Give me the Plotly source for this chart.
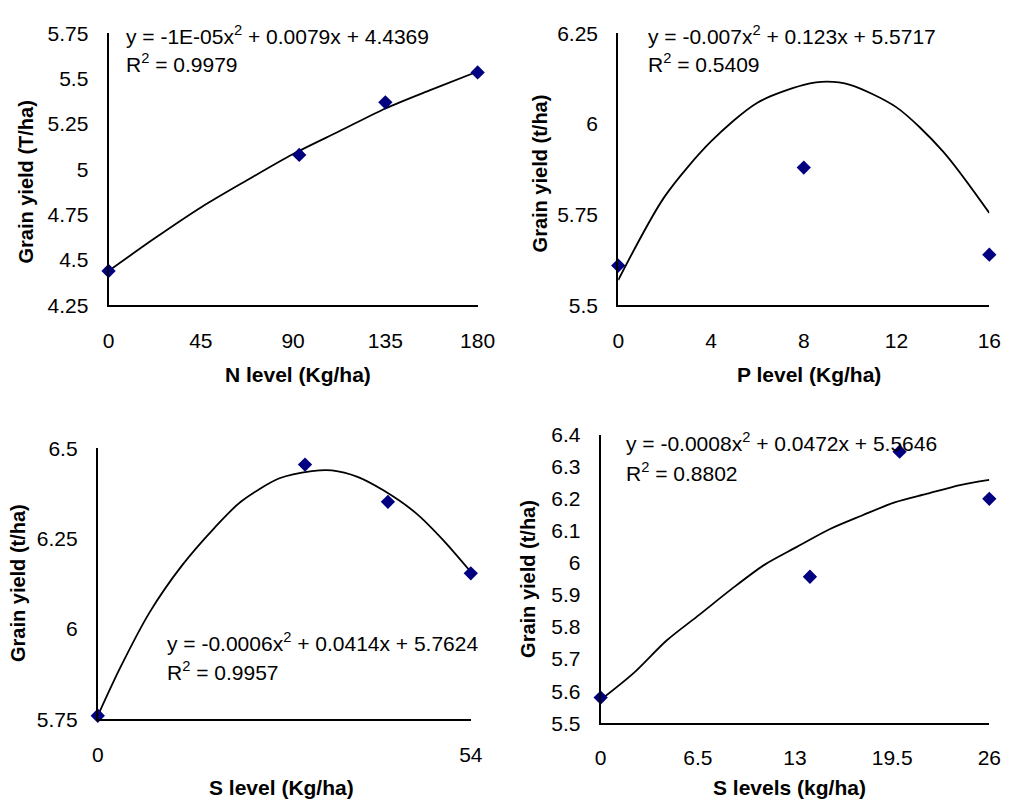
import plotly.graph_objects as go

W, H = 1020, 812

# ---------- data ----------
n_x = [0, 93, 135, 180]
n_y = [4.44, 5.08, 5.37, 5.535]
n_fit_x = [0, 22.5, 45, 67.5, 90, 112.5, 135, 157.5, 180]
n_fit_y = [4.44, 4.62, 4.79, 4.94, 5.085, 5.21, 5.336, 5.44, 5.54]

p_x = [0, 8, 16]
p_y = [5.61, 5.88, 5.64]
p_fit_x = [0, 2, 4, 6, 8, 9, 10, 12, 14, 16]
p_fit_y = [5.57, 5.80, 5.952, 6.059, 6.108, 6.117, 6.108, 6.046, 5.925, 5.755]

s1_x = [0, 30, 42, 54]
s1_y = [5.76, 6.455, 6.352, 6.154]
s1_fit_x = [0, 3.25, 7.5, 12.2, 16.9, 20.7, 26.3, 31, 33.9, 37.6, 41.4, 46.1, 49.9, 54]
s1_fit_y = [5.76, 5.893, 6.046, 6.176, 6.28, 6.352, 6.417, 6.437, 6.439, 6.421, 6.383, 6.32, 6.248, 6.158]

s2_x = [0, 14, 20, 26]
s2_y = [5.58, 5.957, 6.347, 6.2]
s2_fit_x = [0, 2.22, 4.41, 6.59, 8.77, 10.95, 13.13, 15.31, 17.49, 19.67, 21.85, 24.04, 26]
s2_fit_y = [5.573, 5.657, 5.758, 5.838, 5.919, 5.994, 6.05, 6.105, 6.148, 6.189, 6.216, 6.243, 6.259]

n_ticks = [0, 45, 90, 135, 180]
n_yticks = [4.25, 4.5, 4.75, 5, 5.25, 5.5, 5.75]
p_ticks = [0, 4, 8, 12, 16]
p_yticks = [5.5, 5.75, 6, 6.25]
s1_ticks = [0, 54]
s1_yticks = [5.75, 6, 6.25, 6.5]
s2_ticks = [0, 6.5, 13, 19.5, 26]
s2_yticks = [5.5, 5.6, 5.7, 5.8, 5.9, 6, 6.1, 6.2, 6.3, 6.4]

eqs = [
    ("y = -1E-05x<sup>2</sup> + 0.0079x + 4.4369", "R<sup>2</sup> = 0.9979"),
    ("y = -0.007x<sup>2</sup> + 0.123x + 5.5717", "R<sup>2</sup> = 0.5409"),
    ("y = -0.0006x<sup>2</sup> + 0.0414x + 5.7624", "R<sup>2</sup> = 0.9957"),
    ("y = -0.0008x<sup>2</sup> + 0.0472x + 5.5646", "R<sup>2</sup> = 0.8802"),
]
xtitles = ["N level (Kg/ha)", "P level (Kg/ha)", "S level (Kg/ha)", "S levels (kg/ha)"]
ytitles = ["Grain yield (T/ha)", "Grain yield (t/ha)", "Grain yield (t/ha)", "Grain yield (t/ha)"]

FONT = "Liberation Sans, Arial, sans-serif"
NAVY = "#000080"
TICK_SIZE = 21
EQ_SIZE = 21
XT_SIZE = 21
YT_SIZE = 20


def fmt(v):
    s = ("%.2f" % v).rstrip("0").rstrip(".")
    return s


# pixel boxes: (x0, x1, ytop, ybottom)
boxes = [
    (105, 483, 22, 302),
    (627, 1007, 22, 302),
    (94, 476, 449, 728),
    (609, 1007, 435, 732),
]
ranges = [
    ((0, 180), (4.25, 5.75), n_ticks, n_yticks),
    ((0, 16), (5.5, 6.25), p_ticks, p_yticks),
    ((0, 54), (5.75, 6.5), s1_ticks, s1_yticks),
    ((0, 26), (5.5, 6.4), s2_ticks, s2_yticks),
]
series = [
    (n_x, n_y, n_fit_x, n_fit_y),
    (p_x, p_y, p_fit_x, p_fit_y),
    (s1_x, s1_y, s1_fit_x, s1_fit_y),
    (s2_x, s2_y, s2_fit_x, s2_fit_y),
]
# annotation positions (pixels)
eq_pos = [(121, 24, 53), (655, 24, 53), (163, 648, 678), (633, 443, 473)]
xt_pos = [(299, 373), (822, 373), (282, 798), (802, 798)]
yt_pos = [(21, 175), (547, 166), (13, 588), (535, 583)]

fig = go.Figure()
layout = dict(
    width=W, height=H, margin=dict(l=0, r=0, t=0, b=0),
    paper_bgcolor="white", plot_bgcolor="white", showlegend=False,
    font=dict(family=FONT, size=TICK_SIZE, color="black"),
)
annotations = []

for i in range(4):
    x0, x1, yt, yb = boxes[i]
    xr, yr, xticks, yticks = ranges[i]
    sx, sy, fx, fy = series[i]
    xa = "x" if i == 0 else "x%d" % (i + 1)
    ya = "y" if i == 0 else "y%d" % (i + 1)
    xkey = "xaxis" if i == 0 else "xaxis%d" % (i + 1)
    ykey = "yaxis" if i == 0 else "yaxis%d" % (i + 1)
    layout[xkey] = dict(
        domain=[x0 / W, x1 / W], range=list(xr), anchor=ya,
        tickvals=xticks, ticktext=[fmt(v) for v in xticks],
        showgrid=False, zeroline=False, showline=True, linecolor="black",
        linewidth=2, ticks="", ticklabelstandoff=15,
        tickfont=dict(family=FONT, size=TICK_SIZE, color="black"),
    )
    layout[ykey] = dict(
        domain=[1 - yb / H, 1 - yt / H], range=list(yr), anchor=xa,
        tickvals=yticks, ticktext=[fmt(v) for v in yticks],
        showgrid=False, zeroline=False, showline=True, linecolor="black",
        linewidth=2, ticks="", ticklabelstandoff=14,
        tickfont=dict(family=FONT, size=TICK_SIZE, color="black"),
    )
    fig.add_trace(go.Scatter(
        x=fx, y=fy, mode="lines", xaxis=xa, yaxis=ya,
        line=dict(color="black", width=1.8, shape="spline", smoothing=0.8),
        cliponaxis=False, hoverinfo="skip",
    ))
    fig.add_trace(go.Scatter(
        x=sx, y=sy, mode="markers", xaxis=xa, yaxis=ya,
        marker=dict(symbol="diamond", size=11, color=NAVY, line=dict(width=0)),
        cliponaxis=False,
    ))
    ex, ey1, ey2 = eq_pos[i]
    annotations.append(dict(
        text=eqs[i][0], x=ex / W, y=1 - ey1 / H, xref="paper", yref="paper",
        xanchor="left", yanchor="middle", showarrow=False,
        font=dict(family=FONT, size=EQ_SIZE, color="black"),
    ))
    annotations.append(dict(
        text=eqs[i][1], x=ex / W, y=1 - ey2 / H, xref="paper", yref="paper",
        xanchor="left", yanchor="middle", showarrow=False,
        font=dict(family=FONT, size=EQ_SIZE, color="black"),
    ))
    tx, ty = xt_pos[i]
    annotations.append(dict(
        text="<b>%s</b>" % xtitles[i], x=tx / W, y=1 - ty / H,
        xref="paper", yref="paper", xanchor="center", yanchor="middle",
        showarrow=False, font=dict(family=FONT, size=XT_SIZE, color="black"),
    ))
    gx, gy = yt_pos[i]
    annotations.append(dict(
        text="<b>%s</b>" % ytitles[i], x=gx / W, y=1 - gy / H,
        xref="paper", yref="paper", xanchor="center", yanchor="middle",
        textangle=-90, showarrow=False,
        font=dict(family=FONT, size=YT_SIZE, color="black"),
    ))

layout["annotations"] = annotations
fig.update_layout(**layout)
fig.write_html("out.html")
